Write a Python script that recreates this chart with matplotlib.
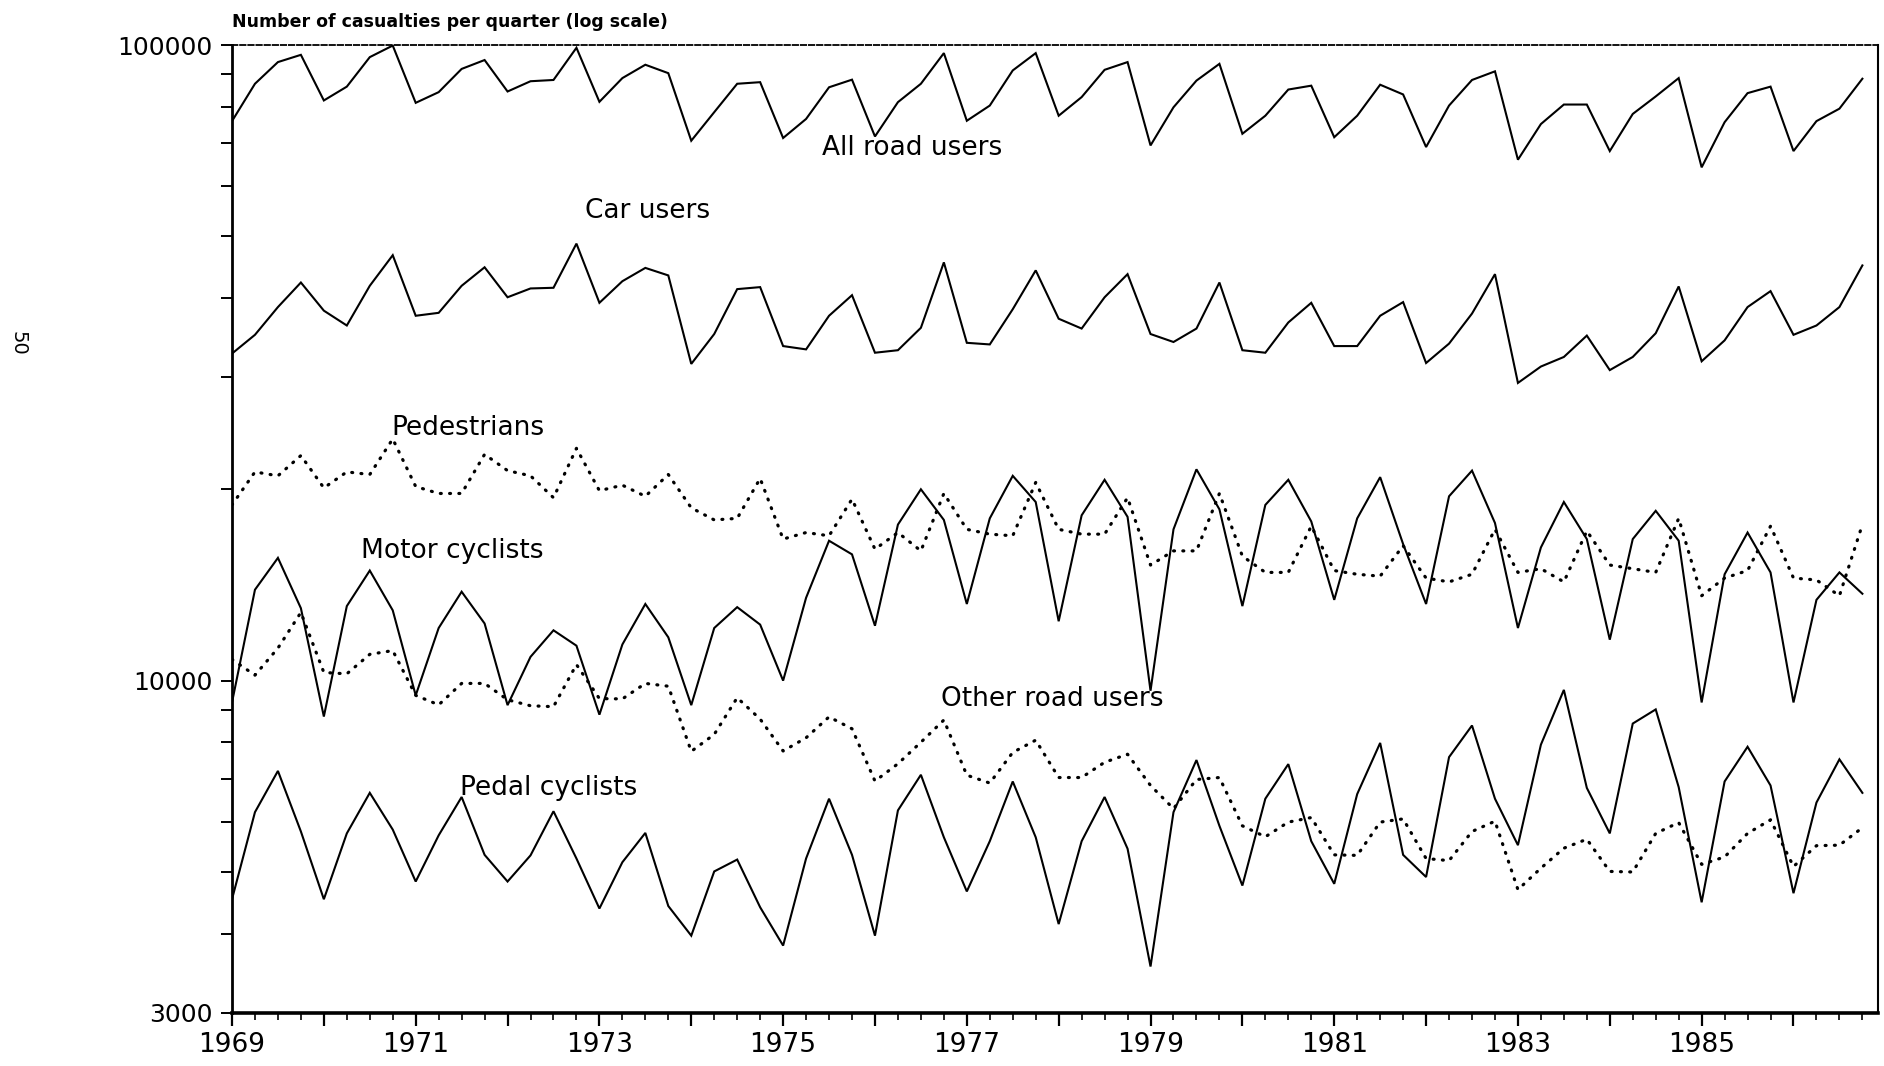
import numpy as np
import matplotlib
matplotlib.use("Agg")
import matplotlib.pyplot as plt
from matplotlib.ticker import FixedLocator, FixedFormatter, NullFormatter
from matplotlib import font_manager

# ---------------- data (quarterly casualties, 1969 Q1 .. 1986 Q4) ----------------
years = list(range(1969, 1987))
quarter_offsets = [0.0, 0.25, 0.5, 0.75]

all_road_users = [
    75900, 86900, 94000, 96500,
    81800, 86000, 95700, 99800,
    81100, 84300, 91700, 94700,
    84500, 87700, 88100, 99000,
    81400, 88700, 93100, 90300,
    70700, 78400, 86900, 87400,
    71400, 76500, 85800, 88200,
    71800, 81300, 86900, 97100,
    76000, 80300, 91200, 97100,
    77400, 82800, 91400, 94000,
    69500, 79800, 87900, 93400,
    72500, 77400, 85100, 86300,
    71600, 77400, 86600, 83600,
    69100, 80300, 88100, 90900,
    66000, 75100, 80600, 80600,
    68100, 77900, 83000, 88700,
    64200, 75600, 84000, 86000,
    68100, 75900, 79400, 88500,
]

car_users = [
    32700, 35000, 38700, 42300,
    38200, 36200, 41800, 46700,
    37500, 37900, 41800, 44700,
    40100, 41400, 41500, 48700,
    39300, 42500, 44600, 43400,
    31500, 35100, 41300, 41600,
    33600, 33200, 37500, 40400,
    32800, 33100, 35900, 45500,
    34000, 33800, 38400, 44200,
    37100, 35800, 40100, 43600,
    35100, 34100, 35800, 42300,
    33100, 32800, 36600, 39300,
    33600, 33600, 37500, 39400,
    31600, 33900, 37800, 43600,
    29400, 31200, 32300, 34900,
    30800, 32300, 35200, 41700,
    31800, 34300, 38700, 41000,
    35000, 36200, 38700, 45000,
]

pedestrians = [
    18900, 21300, 21000, 22600,
    20100, 21300, 21100, 24000,
    20200, 19700, 19700, 22700,
    21400, 21000, 19400, 23200,
    19900, 20300, 19500, 21100,
    18700, 17900, 18000, 20800,
    16700, 17100, 16900, 19300,
    16100, 17100, 16000, 19700,
    17300, 17000, 16900, 20500,
    17300, 17000, 17000, 19400,
    15200, 16000, 16000, 19700,
    15700, 14800, 14800, 17500,
    14900, 14700, 14600, 16300,
    14500, 14300, 14700, 17300,
    14800, 15000, 14300, 17200,
    15200, 15000, 14800, 18000,
    13600, 14500, 14900, 17500,
    14500, 14400, 13600, 17600,
]

motor_cyclists = [
    9240, 13900, 15600, 13000,
    8780, 13100, 14900, 12900,
    9480, 12100, 13800, 12300,
    9150, 10900, 12000, 11350,
    8840, 11400, 13200, 11700,
    9150, 12100, 13050, 12250,
    10000, 13500, 16600, 15800,
    12200, 17600, 20000, 17900,
    13200, 18000, 21000, 19100,
    12400, 18200, 20700, 18100,
    9640, 17300, 21500, 18600,
    13100, 18900, 20700, 17800,
    13400, 18000, 20900, 16400,
    13200, 19500, 21400, 17700,
    12100, 16200, 19100, 16700,
    11600, 16700, 18500, 16600,
    9240, 14700, 17100, 14800,
    9240, 13400, 14800, 13700,
]

other_road_users = [
    10800, 10200, 11250, 12800,
    10300, 10250, 11000, 11150,
    9480, 9160, 9900, 9900,
    9330, 9130, 9100, 10600,
    9370, 9360, 9900, 9800,
    7740, 8230, 9400, 8700,
    7750, 8130, 8770, 8400,
    6950, 7400, 8000, 8670,
    7100, 6900, 7710, 8060,
    7040, 7040, 7440, 7660,
    6840, 6290, 6990, 7040,
    5910, 5680, 5990, 6090,
    5320, 5310, 5990, 6060,
    5250, 5210, 5790, 6010,
    4690, 5070, 5450, 5630,
    5010, 5000, 5750, 5980,
    5140, 5280, 5750, 6040,
    5100, 5500, 5510, 5870,
]

pedal_cyclists = [
    4530, 6210, 7210, 5790,
    4530, 5750, 6660, 5830,
    4830, 5710, 6560, 5320,
    4830, 5310, 6230, 5250,
    4380, 5180, 5760, 4420,
    3970, 5010, 5230, 4400,
    3830, 5250, 6520, 5320,
    3970, 6250, 7110, 5670,
    4660, 5590, 6940, 5670,
    4140, 5590, 6560, 5440,
    3550, 6210, 7500, 5910,
    4760, 6520, 7390, 5590,
    4790, 6630, 7980, 5320,
    4910, 7580, 8500, 6520,
    5510, 7930, 9670, 6780,
    5750, 8560, 9010, 6800,
    4480, 6940, 7870, 6840,
    4630, 6430, 7520, 6660,
]

series_labels = ["All road users", "Car users", "Pedestrians",
                 "Motor cyclists", "Other road users", "Pedal cyclists"]
y_major = [3000, 10000, 100000]
y_major_labels = ["3000", "10000", "100000"]
y_minor = [4000, 5000, 6000, 7000, 8000, 9000,
           20000, 30000, 40000, 50000, 60000, 70000, 80000, 90000]
title_text = "Number of casualties per quarter (log scale)"

# ---------------- fonts ----------------
available = {f.name for f in font_manager.fontManager.ttflist}
narrow = "Liberation Sans Narrow" if "Liberation Sans Narrow" in available else "DejaVu Sans"
year_size = 25 if narrow == "Liberation Sans Narrow" else 19
plt.rcParams["font.family"] = ["DejaVu Sans"]

# ---------------- figure ----------------
x = [y + q for y in years for q in quarter_offsets]

fig = plt.figure(figsize=(18.84, 10.66), dpi=100)
ax = fig.add_axes([232 / 1884, 1 - 1013 / 1066, (1878 - 232) / 1884, (1013 - 45) / 1066])

solid = dict(color="black", lw=1.5, solid_joinstyle="miter")
dotted = dict(color="black", lw=2.3, linestyle=(0, (0.3, 2.6)), dash_capstyle="round")

ax.plot(x, all_road_users, **solid)
ax.plot(x, car_users, **solid)
ax.plot(x, pedestrians, **dotted)
ax.plot(x, motor_cyclists, **solid)
ax.plot(x, other_road_users, **dotted)
ax.plot(x, pedal_cyclists, **solid)

ax.set_yscale("log")
ax.set_ylim(3000, 100000)
ax.set_xlim(1969, 1986.92)

ax.yaxis.set_major_locator(FixedLocator(y_major))
ax.yaxis.set_major_formatter(FixedFormatter(y_major_labels))
ax.yaxis.set_minor_locator(FixedLocator(y_minor))
ax.yaxis.set_minor_formatter(NullFormatter())

ax.xaxis.set_major_locator(FixedLocator(years))
ax.xaxis.set_major_formatter(FixedFormatter([str(y) if y % 2 == 1 else "" for y in years]))
ax.xaxis.set_minor_locator(FixedLocator(x))

ax.tick_params(axis="y", which="both", direction="out", length=8, width=1.4, pad=6,
               labelsize=18)
ax.tick_params(axis="x", which="major", direction="out", length=9, width=1.6, pad=5)
ax.tick_params(axis="x", which="minor", direction="out", length=5, width=1.2)
for lab in ax.get_xticklabels():
    lab.set_fontfamily(narrow)
    lab.set_fontsize(year_size)

ax.spines["bottom"].set_linewidth(2.6)
ax.spines["left"].set_linewidth(2.0)
ax.spines["right"].set_linewidth(1.5)
ax.spines["top"].set_linewidth(1.3)
ax.spines["top"].set_linestyle((0, (3, 1.5)))

# series labels (axes-fraction positions)
label_pos = [(0.3584, 0.8936), (0.2145, 0.828), (0.0970, 0.6047),
             (0.0781, 0.4768), (0.4306, 0.3241), (0.1386, 0.2322)]
for txt, (px, py) in zip(series_labels, label_pos):
    ax.text(px, py, txt, transform=ax.transAxes, ha="left", va="center",
            fontsize=19)

fig.text(232 / 1884, 1 - 22 / 1066, title_text, ha="left", va="center",
         fontsize=12.5, fontweight="bold")
fig.text(18 / 1884, 1 - 343 / 1066, "50", rotation=270, ha="center", va="center",
         fontsize=14)

fig.savefig("out.png", dpi=100, facecolor="white")
